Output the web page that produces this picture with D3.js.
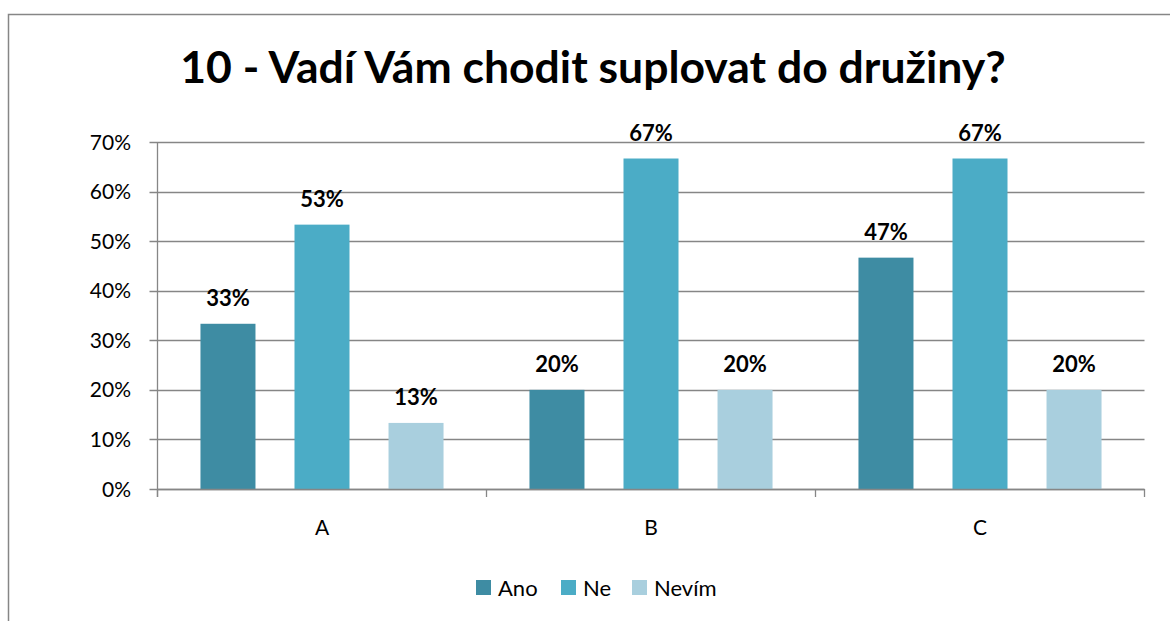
<!DOCTYPE html>
<html><head><meta charset="utf-8">
<script src="https://cdn.jsdelivr.net/npm/d3@7"></script>
<style>body{margin:0;background:#fff}svg{display:block}text{font-family:Lato,"Liberation Sans",sans-serif}</style>
</head><body>
<script>
const categories = ["A","B","C"];
const series = ["Ano","Ne","Nevím"];
const valuesAno = [0.3333, 0.20, 0.4667];
const valuesNe = [0.5333, 0.6667, 0.6667];
const valuesNevim = [0.1333, 0.20, 0.20];
const yTicks = [0,0.1,0.2,0.3,0.4,0.5,0.6,0.7];
const colors = ["#3E8CA3","#4BACC6","#A9CFDE"];
const title = "10 - Vadí Vám chodit suplovat do družiny?";

const seriesValues = [valuesAno, valuesNe, valuesNevim];
const W=1170,H=621;
const svg=d3.select("body").append("svg").attr("width",W).attr("height",H);
svg.append("rect").attr("x",8.5).attr("y",14.5).attr("width",1170).attr("height",640)
  .attr("fill","#fff").attr("stroke","#868686").attr("stroke-width",1.5);

const L=157.5,R=1144.5,T=142,B=489;
const x0=d3.scaleBand().domain(categories).range([L,R]).padding(0);
const x1=d3.scaleBand().domain(series).range([0,x0.bandwidth()]).paddingInner(0.415).paddingOuter(0.457);
const y=d3.scaleLinear().domain([0,0.7]).range([B,T]);

const g=svg.append("g");
g.selectAll("line.grid").data(yTicks).join("line")
 .attr("x1",L-8).attr("x2",R).attr("y1",d=>Math.round(y(d))+0.5).attr("y2",d=>Math.round(y(d))+0.5)
 .attr("stroke","#868686").attr("stroke-width",1.3);
g.append("line").attr("x1",L).attr("x2",L).attr("y1",T).attr("y2",B+8).attr("stroke","#868686").attr("stroke-width",1.3);
g.selectAll("text.yl").data(yTicks).join("text")
 .attr("x",131).attr("y",d=>y(d)).attr("dy","0.36em").attr("text-anchor","end")
 .attr("font-size",21).attr("fill","#000").text(d=>d3.format(".0%")(d));

categories.forEach((c,ci)=>{
  series.forEach((s,si)=>{
    const v=seriesValues[si][ci];
    g.append("rect").attr("x",x0(c)+x1(s)).attr("width",x1.bandwidth())
     .attr("y",y(v)).attr("height",B-y(v)).attr("fill",colors[si]);
    g.append("text").attr("x",x0(c)+x1(s)+x1.bandwidth()/2).attr("y",y(v)-18)
     .attr("text-anchor","middle").attr("font-size",22).attr("font-weight","bold").text(d3.format(".0%")(v));
  });
});
g.append("line").attr("x1",L).attr("x2",R).attr("y1",B+0.5).attr("y2",B+0.5).attr("stroke","#868686").attr("stroke-width",1.5);
const bounds=categories.map(c=>x0(c)).concat([R]);
g.selectAll("line.xt").data(bounds).join("line")
 .attr("x1",d=>d).attr("x2",d=>d).attr("y1",B).attr("y2",B+8).attr("stroke","#868686").attr("stroke-width",1.3);
g.selectAll("text.xl").data(categories).join("text")
 .attr("x",c=>x0(c)+x0.bandwidth()/2).attr("y",527).attr("dy","0.36em").attr("text-anchor","middle")
 .attr("font-size",21).text(d=>d);

svg.append("text").attr("x",593).attr("y",83).attr("text-anchor","middle").attr("font-size",44.5)
 .attr("font-weight","bold").text(title);

const legX=[476,561,632];
series.forEach((s,i)=>{
  svg.append("rect").attr("x",legX[i]).attr("y",580).attr("width",15).attr("height",15).attr("fill",colors[i]);
  svg.append("text").attr("x",legX[i]+22).attr("y",588).attr("dy","0.36em").attr("font-size",22).text(s);
});
</script>
</body></html>
